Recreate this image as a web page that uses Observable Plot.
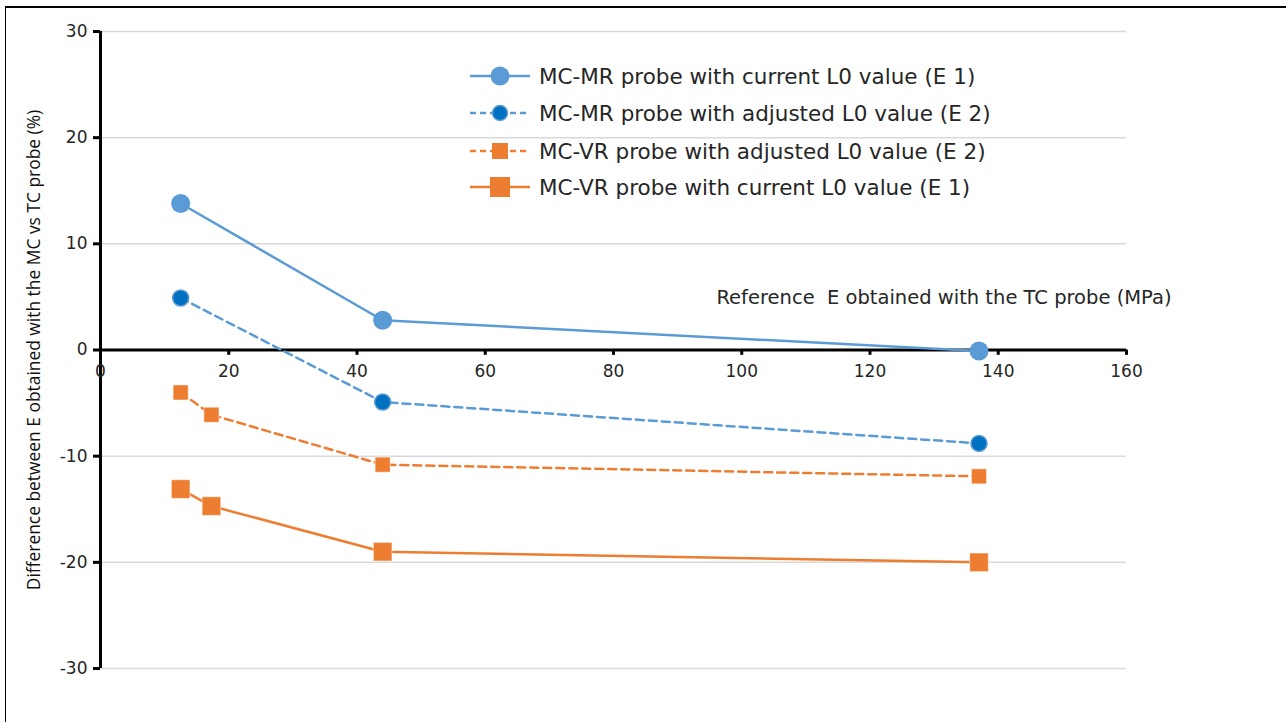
<!DOCTYPE html>
<html>
<head>
<meta charset="utf-8">
<script src="https://cdn.jsdelivr.net/npm/d3@7"></script>
<script src="https://cdn.jsdelivr.net/npm/@observablehq/plot@0.6"></script>
<style>
  html, body { margin: 0; padding: 0; background: #fff; }
  #wrap { position: relative; width: 1286px; height: 722px; overflow: hidden; font-family: "DejaVu Sans", sans-serif; }
  #frame { position: absolute; left: 5px; top: 6px; right: -10px; bottom: -10px; border-top: 2px solid #000; border-left: 1.5px solid #000; pointer-events: none; }
  #legend { position: absolute; left: 0; top: 0; }
</style>
</head>
<body>
<div id="wrap"><div id="frame"></div></div>
<script>
// ---- data ----
const seriesNames = [
  "MC-MR probe with current L0 value (E 1)",
  "MC-MR probe with adjusted L0 value (E 2)",
  "MC-VR probe with adjusted L0 value (E 2)",
  "MC-VR probe with current L0 value (E 1)"
];
const mrCurrentX = [12.5, 44, 137];
const mrCurrentY = [13.8, 2.8, -0.1];
const mrAdjustedX = [12.5, 44, 137];
const mrAdjustedY = [4.9, -4.9, -8.8];
const vrAdjustedX = [12.5, 17.3, 44, 137];
const vrAdjustedY = [-4.0, -6.1, -10.8, -11.9];
const vrCurrentX = [12.5, 17.3, 44, 137];
const vrCurrentY = [-13.1, -14.7, -19.0, -20.0];
const xTicks = [0, 20, 40, 60, 80, 100, 120, 140, 160];
const yTicks = [-30, -20, -10, 0, 10, 20, 30];
const xTitle = "Reference  E obtained with the TC probe (MPa)";
const yTitle = "Difference between E obtained with the MC vs TC probe (%)";

const toRows = (xs, ys) => xs.map((x, i) => ({x, y: ys[i]}));
const mrCur = toRows(mrCurrentX, mrCurrentY);
const mrAdj = toRows(mrAdjustedX, mrAdjustedY);
const vrAdj = toRows(vrAdjustedX, vrAdjustedY);
const vrCur = toRows(vrCurrentX, vrCurrentY);

const lightBlue = "#5B9BD5", darkBlue = "#0070C0", orange = "#ED7D31";
const font = "DejaVu Sans, sans-serif";
const titleFont = "Open Sans, sans-serif";
const textColor = "#262626";

const chart = Plot.plot({
  width: 1286,
  height: 722,
  marginLeft: 100,
  marginRight: 160,
  marginTop: 31,
  marginBottom: 54,
  style: {fontFamily: font, background: "transparent", overflow: "visible"},
  x: {domain: [0, 160], axis: null},
  y: {domain: [-30, 30], axis: null},
  marks: [
    Plot.gridY(yTicks, {stroke: "#d9d9d9", strokeOpacity: 1, strokeWidth: 1.5}),
    // y axis
    Plot.axisY(yTicks, {tickSize: 7, tickPadding: 6, fontSize: 17, fill: textColor, stroke: "#000", strokeWidth: 3, tickFormat: d => String(d), label: null}),
    Plot.ruleX([0], {strokeWidth: 3, stroke: "#000"}),
    // x axis at y = 0
    Plot.ruleY([0], {strokeWidth: 3, stroke: "#000"}),
    Plot.ruleX(xTicks, {x: d => d, y1: 0, y2: -0.5, strokeWidth: 3, stroke: "#000"}),
    Plot.text(xTicks, {x: d => d, y: 0, dy: 22, text: d => String(d), fontSize: 17, fill: textColor}),
    // titles
    Plot.text([xTitle], {frameAnchor: "right", textAnchor: "end", dx: 45, dy: -52, fontSize: 19.5, fill: textColor}),
    Plot.text([yTitle], {frameAnchor: "left", textAnchor: "middle", rotate: -90, dx: -66, fontSize: 17.4, fontFamily: titleFont, fill: "#111"}),
    // series
    Plot.line(vrCur, {x: "x", y: "y", stroke: orange, strokeWidth: 2.5}),
    Plot.line(vrAdj, {x: "x", y: "y", stroke: orange, strokeWidth: 2.5, strokeDasharray: "8,5"}),
    Plot.line(mrAdj, {x: "x", y: "y", stroke: lightBlue, strokeWidth: 2.5, strokeDasharray: "8,5"}),
    Plot.line(mrCur, {x: "x", y: "y", stroke: lightBlue, strokeWidth: 2.5}),
    Plot.dot(vrCur, {x: "x", y: "y", symbol: "square", r: 10.5, fill: orange, stroke: "#fff", strokeWidth: 0.5}),
    Plot.dot(vrAdj, {x: "x", y: "y", symbol: "square", r: 8.5, fill: orange, stroke: "#fff", strokeWidth: 0.5}),
    Plot.dot(mrAdj, {x: "x", y: "y", r: 8, fill: darkBlue, stroke: lightBlue, strokeWidth: 1.5}),
    Plot.dot(mrCur, {x: "x", y: "y", r: 9.5, fill: lightBlue})
  ]
});
document.getElementById("wrap").appendChild(chart);

// legend overlay
const legendItems = [
  {name: seriesNames[0], color: lightBlue, dash: null, shape: "circle", r: 9.5, fill: lightBlue, stroke: "none"},
  {name: seriesNames[1], color: lightBlue, dash: "6,4", shape: "circle", r: 7.5, fill: darkBlue, stroke: lightBlue},
  {name: seriesNames[2], color: orange, dash: "6,4", shape: "square", r: 8, fill: orange, stroke: "none"},
  {name: seriesNames[3], color: orange, dash: null, shape: "square", r: 10, fill: orange, stroke: "none"}
];
const rowY = [76, 113, 151, 187];
const svg = d3.select("#wrap").append("svg").attr("id", "legend").attr("width", 1286).attr("height", 722);
legendItems.forEach((it, i) => {
  const g = svg.append("g").attr("transform", `translate(0,${rowY[i]})`);
  g.append("line").attr("x1", 470).attr("x2", 530).attr("y1", 0).attr("y2", 0)
    .attr("stroke", it.color).attr("stroke-width", 2.5).attr("stroke-dasharray", it.dash);
  if (it.shape === "circle") {
    g.append("circle").attr("cx", 500).attr("cy", 0).attr("r", it.r).attr("fill", it.fill).attr("stroke", it.stroke).attr("stroke-width", 1.5);
  } else {
    g.append("rect").attr("x", 500 - it.r).attr("y", -it.r).attr("width", 2 * it.r).attr("height", 2 * it.r).attr("fill", it.fill);
  }
  g.append("text").attr("x", 539).attr("y", 0).attr("dy", "0.36em").attr("font-family", font).attr("font-size", 21.5).attr("fill", textColor).text(it.name);
});
</script>
</body>
</html>
